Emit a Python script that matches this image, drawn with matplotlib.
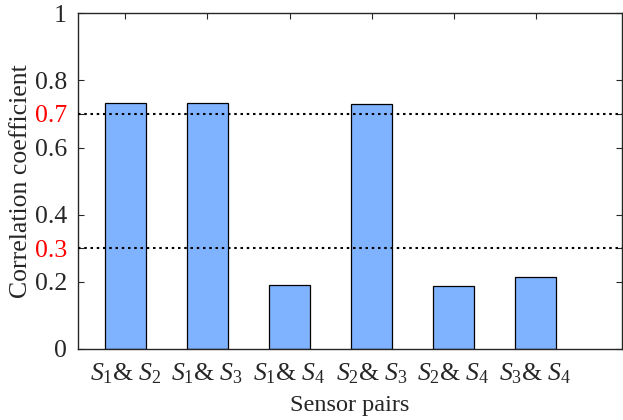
import numpy as np
import matplotlib.pyplot as plt

plt.rcParams["font.family"] = "Liberation Serif"
plt.rcParams["mathtext.fontset"] = "custom"
plt.rcParams["mathtext.rm"] = "Liberation Serif"
plt.rcParams["mathtext.it"] = "Liberation Serif:italic"

# Correlation coefficient per sensor pair
pairs = [r"$S_1$& $S_2$", r"$S_1$& $S_3$", r"$S_1$& $S_4$",
         r"$S_2$& $S_3$", r"$S_2$& $S_4$", r"$S_3$& $S_4$"]
corr = [0.733, 0.733, 0.190, 0.729, 0.187, 0.214]
thresholds = [0.3, 0.7]
yticks = [0, 0.2, 0.3, 0.4, 0.6, 0.7, 0.8, 1]
ytick_labels = ["0", "0.2", "0.3", "0.4", "0.6", "0.7", "0.8", "1"]

fig = plt.figure(figsize=(6.23, 4.2), dpi=100)
ax = fig.add_axes([0.125, 0.17, 0.873, 0.798])

x = np.arange(1, len(pairs) + 1)
ax.bar(x, corr, width=0.5, color="#80b3ff", edgecolor="black", linewidth=0.9, zorder=2)
for t in thresholds:
    ax.axhline(t, color="black", linestyle=(0, (1.2, 1.8)), linewidth=1.5, zorder=3)

ax.set_xlim(0.42, 7.05)
ax.set_ylim(0, 1)
ax.set_xticks(x)
ax.set_xticklabels(pairs)
ax.set_yticks(yticks)
ax.set_yticklabels(ytick_labels)

ax.tick_params(direction="in", top=True, right=True, labelsize=18.5,
               length=4, width=0.8, colors="#262626", labelcolor="#262626")
ax.tick_params(axis="y", pad=8)
ax.tick_params(axis="x", pad=9)
for lbl, val in zip(ax.get_yticklabels(), yticks):
    if val in thresholds:
        lbl.set_color("red")
for s in ax.spines.values():
    s.set_linewidth(1.0)
    s.set_color("#262626")

ax.set_xlabel("Sensor pairs", fontsize=17.5, color="#262626", labelpad=7)
ax.set_ylabel("Correlation coefficient", fontsize=18.5, color="#262626", labelpad=2)

fig.savefig("out.png", dpi=100)
